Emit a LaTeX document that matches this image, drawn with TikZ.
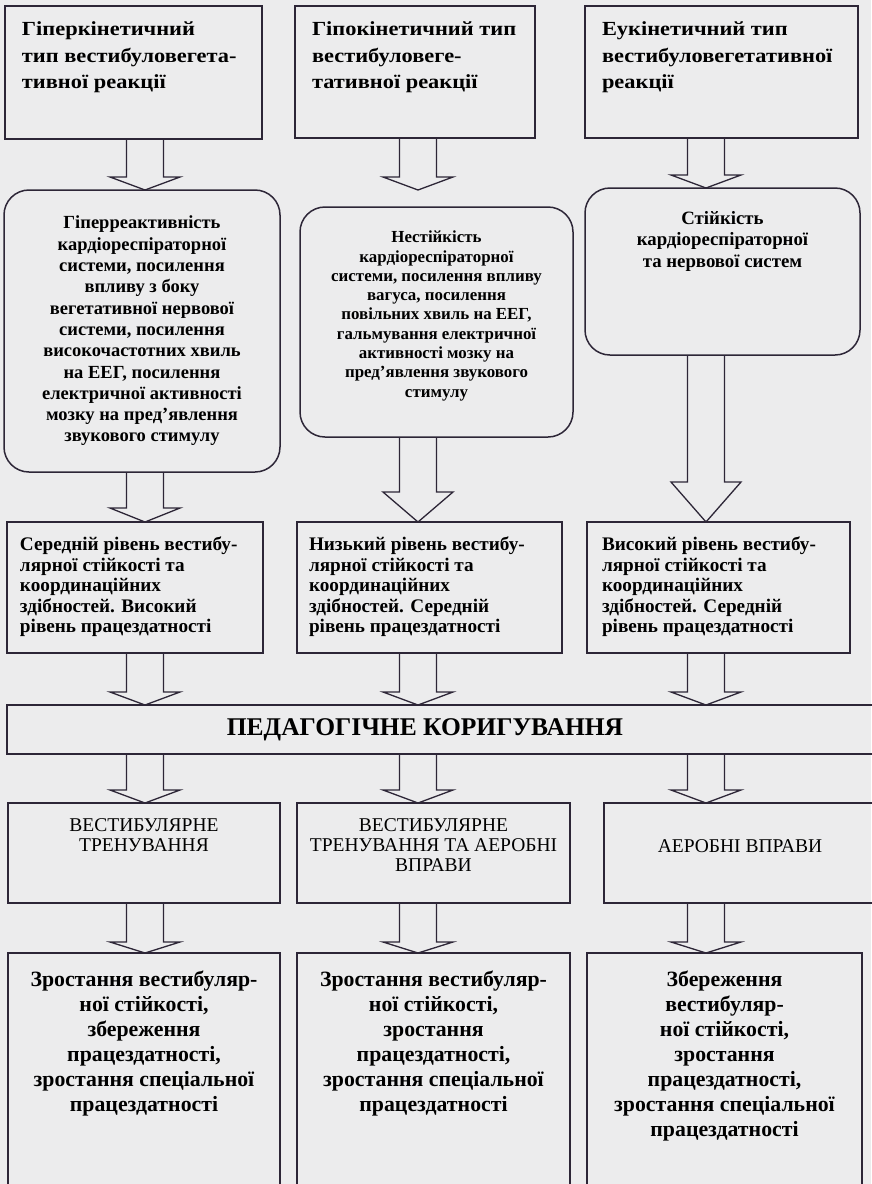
\documentclass[tikz,border=0pt]{standalone}
\usepackage{fontspec}
\setmainfont{Liberation Serif}
\newfontfamily\widefont[FakeStretch=1.12]{Liberation Serif}
\usetikzlibrary{calc}
\hyphenpenalty=10000
\definecolor{paper}{RGB}{236,236,237}
\definecolor{edge}{RGB}{45,38,55}
\tikzset{box/.style={draw=edge, line width=1.5pt, inner sep=0pt, outer sep=0pt, anchor=north west},
roundbox/.style={box, rounded corners=25pt},
flowarrow/.style={draw=edge, line width=1.3pt, line join=miter}}
% fonts of the rows
\newcommand{\typefont}{\widefont\bfseries\fontsize{20}{26.5}\selectfont}
\newcommand{\statefont}{\bfseries\fontsize{18.5}{21.3}\selectfont}
\newcommand{\levelfont}{\bfseries\fontsize{19.2}{20.5}\selectfont}
\newcommand{\pedfont}{\bfseries\fontsize{25.5}{28}\selectfont}
\newcommand{\methodfont}{\fontsize{19.5}{20}\selectfont}
\newcommand{\resultfont}{\bfseries\fontsize{21.8}{25}\selectfont}
% text block of fixed size (width, height, position, text)
\newcommand{\boxtext}[4]{\begin{minipage}[t][#2pt][#3]{#1pt}#4\end{minipage}}
% hollow block arrow: column, from, to, head length
\newcommand{\blockarrow}[4]{%
\draw[flowarrow] let \p1=(#2 -| #1), \p2=(#3 -| #1) in
 (\x1-18.5pt,\y1) -- (\x1-18.5pt,\y2+#4pt) -- (\x1-35pt,\y2+#4pt) -- (\x2,\y2)
 -- (\x1+35pt,\y2+#4pt) -- (\x1+18.5pt,\y2+#4pt) -- (\x1+18.5pt,\y1);}

\begin{document}
\begin{tikzpicture}[x=1pt,y=-1pt]
\fill[paper] (0,0) rectangle (871,1184);
\useasboundingbox (0,0) rectangle (871,1184);

\coordinate (colA) at (145,0);
\coordinate (colB) at (418,0);
\coordinate (colC) at (706,0);
\coordinate (tipB) at (418,190);

% types of the reaction
\node[box] (typeA) at (5,6) {\boxtext{257}{133}{t}{\typefont\vspace*{16pt}\raggedright\leftskip=17pt
Гіперкінетичний\\ тип вестибуловегета-\\ тивної реакції}};
\node[box] (typeB) at (295,6) {\boxtext{240}{132}{t}{\typefont\vspace*{16pt}\raggedright\leftskip=17pt
Гіпокінетичний тип\\ вестибуловеге-\\ тативної реакції}};
\node[box] (typeC) at (585,6) {\boxtext{273}{132}{t}{\typefont\vspace*{16pt}\raggedright\leftskip=17pt
Еукінетичний тип\\ вестибуловегетативної\\ реакції}};

% state of the systems
\node[roundbox] (stateA) at (4,190) {\boxtext{276}{282}{c}{\statefont\centering
Гіперреактивність\\ кардіореспіраторної\\ системи, посилення\\ впливу з боку\\ вегетативної нервової\\ системи, посилення\\ високочастотних хвиль\\ на ЕЕГ, посилення\\ електричної активності\\ мозку на пред’явлення\\ звукового стимулу\par}};
\node[roundbox] (stateB) at (300,207) {\boxtext{273}{230}{t}{\bfseries\fontsize{16.9}{19.3}\selectfont\vspace*{24pt}\centering
Нестійкість\\ кардіореспіраторної\\ системи, посилення впливу\\ вагуса, посилення\\ повільних хвиль на ЕЕГ,\\ гальмування електричної\\ активності мозку на\\ пред'явлення звукового\\ стимулу\par}};
\node[roundbox] (stateC) at (585,188) {\boxtext{275}{167}{t}{\bfseries\fontsize{18.8}{21.7}\selectfont\vspace*{23pt}\centering
Стійкість\\ кардіореспіраторної\\ та нервової систем\par}};

% levels of stability
\node[box] (levelA) at (7,522) {\boxtext{256}{131}{t}{\levelfont\vspace*{15pt}\raggedright\leftskip=13pt
Середній рівень вестибу-\\ лярної стійкості та\\ координаційних\\ здібностей. Високий\\ рівень працездатності}};
\node[box] (levelB) at (297,522) {\boxtext{265}{131}{t}{\levelfont\vspace*{15pt}\raggedright\leftskip=12pt
Низький рівень вестибу-\\ лярної стійкості та\\ координаційних\\ здібностей. Середній\\ рівень працездатності}};
\node[box] (levelC) at (587,522) {\boxtext{263}{131}{t}{\levelfont\vspace*{15pt}\raggedright\leftskip=15pt
Високий рівень вестибу-\\ лярної стійкості та\\ координаційних\\ здібностей. Середній\\ рівень працездатності}};

% correction
\node[box] (ped) at (7,705) {\boxtext{880}{49}{c}{\pedfont\centering\rightskip=44pt plus 1fil
ПЕДАГОГІЧНЕ КОРИГУВАННЯ\par}};

% methods
\node[box] (methodA) at (8,803) {\boxtext{272}{100}{t}{\methodfont\vspace*{16pt}\centering
ВЕСТИБУЛЯРНЕ\\ ТРЕНУВАННЯ\par}};
\node[box] (methodB) at (297,803) {\boxtext{273}{100}{t}{\methodfont\vspace*{16pt}\centering
ВЕСТИБУЛЯРНЕ\\ ТРЕНУВАННЯ ТА АЕРОБНІ\\ ВПРАВИ\par}};
\node[box] (methodC) at (604,803) {\boxtext{272}{100}{t}{\methodfont\vspace*{37pt}\centering
АЕРОБНІ ВПРАВИ\par}};

% results
\node[box] (resultA) at (8,953) {\boxtext{272}{250}{t}{\resultfont\vspace*{18pt}\centering
Зростання вестибуляр-\\ ної стійкості,\\ збереження\\ працездатності,\\ зростання спеціальної\\ працездатності\par}};
\node[box] (resultB) at (297,953) {\boxtext{273}{250}{t}{\resultfont\vspace*{18pt}\centering
Зростання вестибуляр-\\ ної стійкості,\\ зростання\\ працездатності,\\ зростання спеціальної\\ працездатності\par}};
\node[box] (resultC) at (587,953) {\boxtext{275}{250}{t}{\resultfont\vspace*{18pt}\centering
Збереження\\ вестибуляр-\\ ної стійкості,\\ зростання\\ працездатності,\\ зростання спеціальної\\ працездатності\par}};

% arrows
\blockarrow{colA}{typeA.south}{stateA.north}{13}
\blockarrow{colB}{typeB.south}{tipB}{13}
\blockarrow{colC}{typeC.south}{stateC.north}{13}
\blockarrow{colA}{stateA.south}{levelA.north}{14}
\blockarrow{colB}{stateB.south}{levelB.north}{30}
\blockarrow{colC}{stateC.south}{levelC.north}{40}
\foreach \c in {A,B,C}{
\blockarrow{col\c}{level\c.south}{ped.north}{13}
\blockarrow{col\c}{ped.south}{method\c.north}{13}
\blockarrow{col\c}{method\c.south}{result\c.north}{11}
}
\end{tikzpicture}
\end{document}
